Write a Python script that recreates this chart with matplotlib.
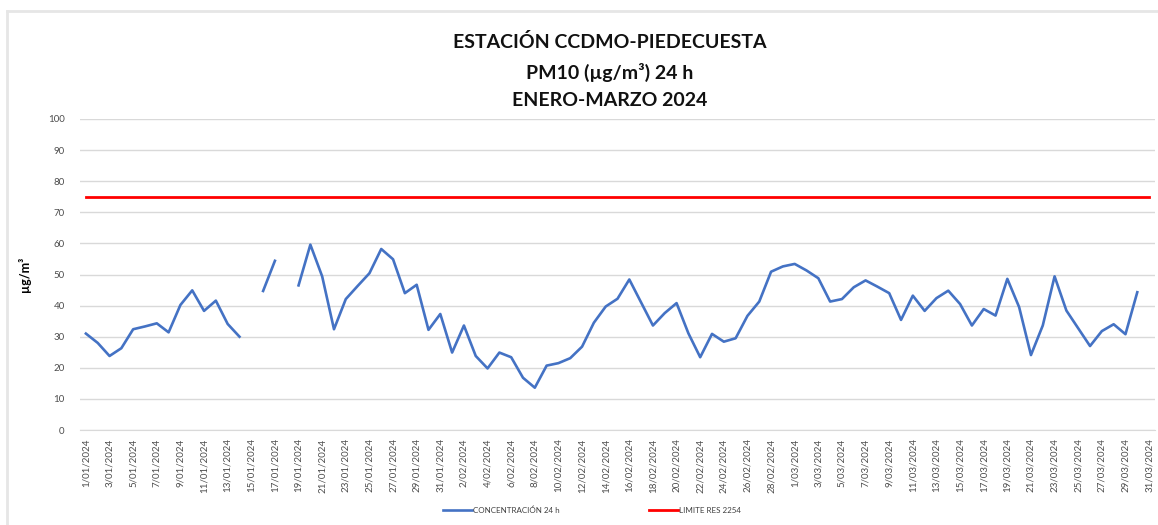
import numpy as np
import pandas as pd
import matplotlib
matplotlib.use("Agg")
import matplotlib.pyplot as plt
from matplotlib.lines import Line2D

plt.rcParams['font.family'] = ['Lato', 'DejaVu Sans']

########################################################################
# Data

dates = pd.date_range("2024-01-01", "2024-03-31", freq="D")

pm10 = [
    31.0, 28.0, 23.8, 26.3, 32.4, 33.3, 34.3, 31.4, 40.2, 44.9,
    38.3, 41.6, 34.1, 30.0, np.nan, 44.7, 54.4, np.nan, 46.5, 59.6,
    49.4, 32.4, 42.1, 46.3, 50.4, 58.2, 54.9, 44.0, 46.7, 32.2,
    37.3, 24.9, 33.6, 23.8, 19.8, 24.9, 23.4, 16.8, 13.6, 20.7,
    21.5, 23.1, 26.8, 34.5, 39.7, 42.2, 48.4, 41.0, 33.6, 37.6,
    40.8, 31.1, 23.4, 30.9, 28.4, 29.5, 36.7, 41.3, 50.9, 52.6,
    53.4, 51.3, 48.8, 41.3, 42.1, 45.9, 48.1, 46.1, 44.0, 35.4,
    43.2, 38.3, 42.4, 44.8, 40.5, 33.6, 38.9, 36.8, 48.6, 39.5,
    24.1, 33.6, 49.4, 38.4, 32.7, 27.0, 31.8, 34.0, 30.8, 44.3,
    np.nan,
]

limit_value = 75
series_labels = ["CONCENTRACIÓN 24 h", "LIMITE RES 2254"]
title_lines = ["ESTACIÓN CCDMO-PIEDECUESTA", "PM10 (µg/m³) 24 h", "ENERO-MARZO 2024"]

########################################################################
# Figure

fig = plt.figure(figsize=(11.58, 5.25), dpi=100)
ax = fig.add_axes([80 / 1158, 95 / 525, 1075 / 1158, 311 / 525])

x = np.arange(len(dates))
limit = np.full(len(dates), limit_value)

ax.plot(x, pm10, color="#4472C4", lw=1.9, solid_joinstyle="round", zorder=3)
ax.plot(x, limit, color="#FF0000", lw=2.0, zorder=3)

ax.set_xlim(-0.5, len(dates) - 0.5)
ax.set_ylim(0, 100)
ax.set_yticks(range(0, 101, 10))
ax.grid(axis="y", color="#d9d9d9", lw=1.0)
ax.set_axisbelow(True)

tick_idx = x[::2]
ax.set_xticks(tick_idx)
ax.set_xticklabels([f"{dates[i].day}/{dates[i].month:02d}/{dates[i].year}" for i in tick_idx],
                   rotation=90, fontsize=7, color="#4d4d4d")
ax.tick_params(axis="x", length=0, pad=6)
ax.tick_params(axis="y", length=0, pad=11, labelsize=7, labelcolor="#4d4d4d")

for side in ["top", "right", "left"]:
    ax.spines[side].set_visible(False)
ax.spines["bottom"].set_color("#d9d9d9")

ax.set_ylabel("µg/m³", fontsize=9, fontweight="bold", labelpad=12)

for text, ypix in zip(title_lines, [42, 72, 100]):
    fig.text(610 / 1158, 1 - ypix / 525, text, ha="center", va="center",
             fontsize=14, fontweight="bold", color="#111111")

handles = [Line2D([], [], color="#4472C4", lw=1.9), Line2D([], [], color="#FF0000", lw=2.0)]
fig.legend(handles, series_labels, loc="center", bbox_to_anchor=(592 / 1158, 1 - 510 / 525),
           ncol=2, frameon=False, fontsize=5.8, handlelength=3.6, handletextpad=0.15,
           columnspacing=11, labelcolor="#404040")

# faint chart-area border
fig.add_artist(Line2D([7 / 1158, 7 / 1158], [0, 1 - 11 / 525], color="#e6e6e6", lw=2))
fig.add_artist(Line2D([7 / 1158, 1], [1 - 11 / 525, 1 - 11 / 525], color="#e6e6e6", lw=2))

fig.savefig("out.png", dpi=100)
